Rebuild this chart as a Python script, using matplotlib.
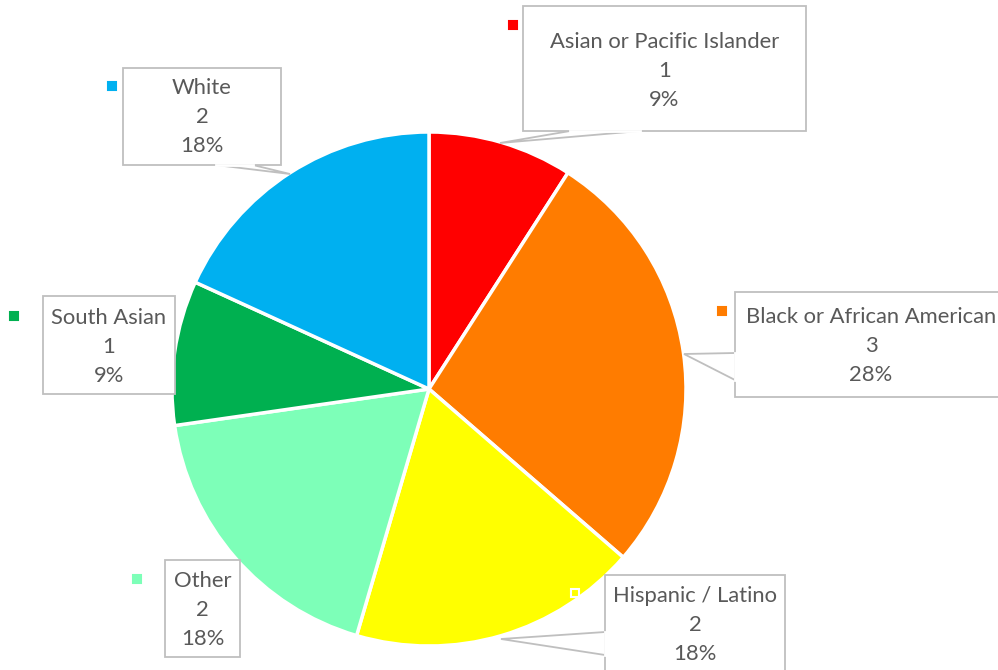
import matplotlib.pyplot as plt
from matplotlib.patches import Rectangle, Polygon

# dados do gráfico
categorias = ["Asian or Pacific Islander", "Black or African American", "Hispanic / Latino",
              "Other", "South Asian", "White"]
valores = [1, 3, 2, 2, 1, 2]
percentuais = ["9%", "28%", "18%", "18%", "9%", "18%"]
cores = ["#FF0000", "#FF7C00", "#FFFF00", "#7DFFB8", "#00B050", "#00B0F0"]

W, H = 998, 670
fig = plt.figure(figsize=(W / 100, H / 100), dpi=100)
ax = fig.add_axes([0, 0, 1, 1])

def py(y):
    # converte y em pixels (de cima) para coordenadas do eixo
    return H - y

ax.pie(valores, colors=cores, startangle=90, counterclock=False,
       center=(429, py(389)), radius=257, frame=True,
       wedgeprops=dict(edgecolor="white", linewidth=2.5))
ax.set_xlim(0, W)
ax.set_ylim(0, H)
ax.set_aspect("equal")
ax.axis("off")

# caixas dos rótulos: (x0, y0, x1, y1) em pixels, ponteiro, marcador, centro do texto
caixas = [
    ((523, 6, 806, 131), [(570, 131), (500, 143), (640, 131)], (513, 25), 71),
    ((735, 292, 1010, 397), [(735, 353), (684, 354), (735, 380)], (722, 311), 346),
    ((605, 575, 785, 690), [(605, 632), (501, 639), (605, 655)], (575, 593), 625),
    ((165, 560, 240, 657), None, (137, 579), 610),
    ((43, 296, 175, 394), None, (14, 316), 347),
    ((123, 68, 281, 165), [(216, 165), (290, 174), (253, 165)], (112, 86), 117),
]

cinza = "#BFBFBF"
for cat, v, p, c, (box, ponteiro, marca, yt) in zip(categorias, valores, percentuais, cores, caixas):
    x0, y0, x1, y1 = box
    if ponteiro:
        ax.add_patch(Polygon([(x, py(y)) for x, y in ponteiro], closed=True,
                             facecolor="white", edgecolor=cinza, linewidth=1.3, zorder=3))
    ax.add_patch(Rectangle((x0, py(y1)), x1 - x0, y1 - y0, facecolor="white",
                           edgecolor=cinza, linewidth=1.3, zorder=4))
    if ponteiro:
        # apaga a borda da caixa na base do ponteiro
        a, b = ponteiro[0], ponteiro[2]
        ax.plot([a[0], b[0]], [py(a[1]), py(b[1])], color="white", linewidth=2, zorder=5)
    xt = (x0 + x1) / 2 if x1 <= W else 871
    ax.text(xt, py(yt), f"{cat}\n{v}\n{p}",
            ha="center", va="center", fontsize=15.8, color="#595959", family="Lato",
            linespacing=1.55, zorder=6)
    mx, my = marca
    borda = "white" if c == "#FFFF00" else c
    ax.add_patch(Rectangle((mx - 4, py(my) - 4), 8, 8, facecolor=c, edgecolor=borda,
                           linewidth=1.5, zorder=6))

fig.savefig("out.png", dpi=100)
